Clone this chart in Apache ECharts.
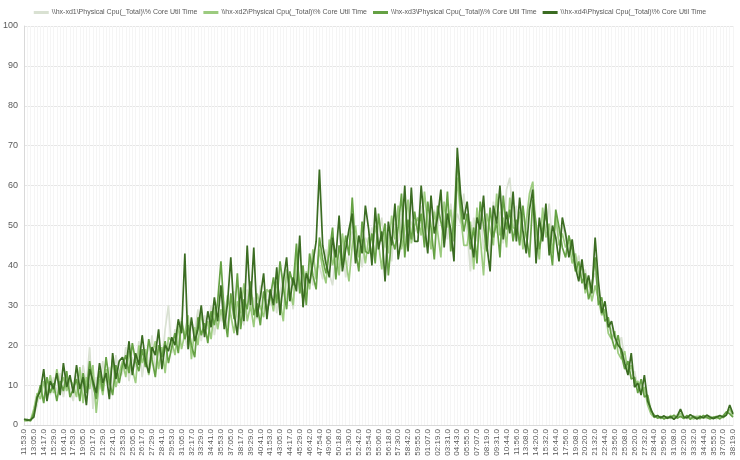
<!DOCTYPE html>
<html><head><meta charset="utf-8">
<script src="https://cdn.jsdelivr.net/npm/echarts@6/dist/echarts.min.js"></script>
<style>html,body{margin:0;padding:0;background:#fff}#c{width:740px;height:460px}</style>
</head><body><div id="c"></div>
<script>
const tickLabels = ['11:53.0','13:05.0','14:17.0','15:29.0','16:41.0','17:53.0','19:05.0','20:17.0','21:29.0','22:41.0','23:53.0','25:05.0','26:17.0','27:29.0','28:41.0','29:53.0','31:05.0','32:17.0','33:29.0','34:41.0','35:53.0','37:05.0','38:17.0','39:29.0','40:41.0','41:53.0','43:05.0','44:17.0','45:29.0','46:42.0','47:54.0','49:06.0','50:18.0','51:30.0','52:42.0','53:54.0','55:06.0','56:18.0','57:30.0','58:42.0','59:55.0','01:07.0','02:19.0','03:31.0','04:43.0','05:55.0','07:07.0','08:19.0','09:31.0','10:44.0','11:56.0','13:08.0','14:20.0','15:32.0','16:44.0','17:56.0','19:08.0','20:20.0','21:32.0','22:44.0','23:56.0','25:08.0','26:20.0','27:32.0','28:44.0','29:56.0','31:08.0','32:20.0','33:32.0','34:44.0','35:55.0','37:07.0','38:19.0'];

const seriesNames = ['\\\\hx-xd1\\Physical Cpu(_Total)\\% Core Util Time','\\\\hx-xd2\\Physical Cpu(_Total)\\% Core Util Time','\\\\hx-xd3\\Physical Cpu(_Total)\\% Core Util Time','\\\\hx-xd4\\Physical Cpu(_Total)\\% Core Util Time'];

const xd1 = [
1.2,1.0,1.5,2.5,5.0,9.5,6.0,10.5,7.5,12.0,8.0,13.0,7.0,12.0,9.0,
6.0,12.5,8.5,15.0,10.0,19.5,4.0,12.0,9.0,16.0,11.0,14.5,8.0,17.5,12.0,
13.0,19.5,11.0,17.0,14.5,21.0,12.0,18.0,15.0,22.5,13.5,19.0,16.0,24.0,30.0,
18.0,24.0,20.5,27.0,22.0,19.0,26.0,23.5,29.0,21.0,27.5,24.0,30.0,22.5,28.0,
26.0,31.0,24.5,29.0,33.5,27.0,30.0,25.0,34.0,28.5,32.0,26.5,35.0,29.0,31.5,
30.0,35.5,28.0,33.0,38.0,31.5,36.0,29.0,40.0,34.0,37.5,32.0,41.0,35.0,39.0,
40.0,36.5,44.0,38.0,35.0,42.5,39.0,46.0,37.0,43.0,48.5,41.0,45.0,39.5,47.0,
45.0,49.5,42.0,47.0,52.0,44.5,48.0,41.0,50.5,46.0,53.0,47.5,44.0,51.0,48.5,
50.0,55.0,47.0,52.5,45.5,54.0,49.0,57.0,51.0,46.5,55.5,48.0,53.0,50.5,58.0,
49.0,38.5,52.0,46.0,55.0,44.0,50.5,42.0,56.0,48.0,53.5,45.5,59.0,62.0,51.0,
55.0,47.0,52.5,49.0,56.0,60.5,50.0,45.5,53.0,48.5,55.5,46.0,51.0,47.5,50.0,
47.0,43.5,45.0,40.0,42.5,37.0,39.0,34.5,36.0,38.0,33.5,30.0,28.5,25.0,24.0,
21.0,19.5,22.0,16.0,14.5,12.0,13.5,9.5,10.0,8.0,6.5,3.0,2.2,1.8,2.0,
1.8,2.2,1.6,2.0,2.6,1.9,2.3,1.5,2.1,1.8,2.4,1.7,2.0,1.6,2.2,
1.7,2.3,1.9,2.4,3.0,3.6,2.2];

const xd2 = [
1.0,1.1,1.2,4.0,8.0,6.5,11.0,7.0,12.5,8.0,14.0,9.5,12.0,8.5,11.5,
10.0,7.0,14.5,5.5,12.0,9.0,15.0,3.0,11.5,7.5,14.0,10.0,16.5,9.5,13.0,
16.0,12.0,18.5,14.0,10.5,20.0,15.5,19.0,12.5,17.5,21.0,14.0,19.5,13.0,22.0,
21.0,17.5,25.0,19.0,23.0,27.5,16.5,24.5,20.0,28.0,23.0,26.0,21.5,29.5,24.0,
29.0,25.0,32.5,27.5,23.0,31.0,28.0,35.5,26.0,30.0,24.5,33.0,29.5,27.0,34.0,
33.0,28.5,36.0,31.0,26.0,39.0,33.5,30.0,42.5,35.0,31.5,38.5,34.0,44.0,36.5,
44.0,39.0,35.5,46.5,40.0,43.5,37.5,48.0,41.5,36.0,45.0,50.0,42.0,46.5,40.5,
47.0,42.5,50.0,45.5,39.0,48.5,43.0,52.5,46.5,55.0,44.0,49.0,56.5,45.5,50.0,
52.0,47.5,58.5,50.0,44.0,53.5,48.5,42.0,56.0,49.5,54.0,46.0,62.0,52.5,45.0,
45.0,51.0,39.0,54.5,47.0,37.5,53.0,49.0,45.0,58.0,47.5,52.0,44.5,57.0,49.5,
49.0,53.5,44.0,51.0,58.0,61.0,48.0,41.5,54.5,47.0,50.5,43.0,52.5,45.0,48.0,
44.5,46.0,40.5,43.0,37.5,40.0,33.0,36.5,31.0,35.0,31.5,27.5,29.0,23.0,21.5,
23.5,18.0,16.5,18.5,13.0,15.0,10.5,11.0,8.5,9.5,5.0,2.8,1.9,2.3,1.6,
2.1,1.6,2.4,1.8,2.0,3.0,1.7,2.2,1.9,1.5,2.0,2.3,1.7,2.1,1.8,
2.0,1.6,2.2,1.8,2.6,4.0,2.5];

const xd3 = [
1.3,1.4,1.0,3.0,6.5,10.0,5.5,12.0,8.0,10.5,6.0,11.0,8.5,13.5,7.0,
9.0,11.5,6.0,13.0,8.0,16.0,10.0,6.5,13.5,8.5,17.0,11.0,7.5,15.0,10.5,
15.0,17.5,13.0,20.5,16.0,13.5,19.0,14.5,21.5,16.5,12.0,20.0,17.0,21.0,15.5,
19.5,23.0,18.0,26.0,21.5,25.0,20.0,17.0,27.0,22.5,25.5,20.5,28.5,25.0,31.0,
41.0,28.0,22.0,33.0,26.5,38.0,24.0,31.5,29.0,36.0,27.5,30.5,25.0,33.5,28.5,
32.0,37.0,30.5,41.0,34.5,29.0,38.5,35.0,45.5,33.0,40.0,30.0,43.0,37.5,34.0,
47.0,41.5,38.0,43.0,49.5,36.5,45.0,40.0,47.5,42.5,57.0,44.0,38.5,51.0,43.5,
43.0,48.0,40.5,53.0,46.0,50.5,37.5,47.0,44.0,49.5,58.0,42.0,51.5,46.5,53.5,
48.0,53.0,44.5,56.0,49.5,41.5,55.0,51.0,47.0,58.5,43.5,51.5,67.0,55.0,48.5,
53.0,44.0,49.5,40.5,56.0,50.0,43.5,54.5,47.0,51.0,42.0,57.5,49.0,54.0,46.0,
51.5,45.0,55.0,47.5,42.0,56.5,50.5,44.0,49.0,53.0,46.5,40.0,54.0,49.5,44.5,
42.0,47.5,44.0,38.5,41.0,35.5,38.0,31.5,34.5,42.0,30.0,32.0,26.0,27.0,22.0,
19.0,22.5,17.5,14.0,16.0,11.5,12.0,8.0,11.5,7.0,7.5,3.5,2.5,1.7,2.1,
1.5,2.0,1.8,2.5,1.7,2.2,1.6,2.4,1.4,2.2,1.8,1.6,2.4,1.9,1.5,
1.9,2.1,1.5,2.3,3.3,2.8,2.0];

const xd4 = [
1.5,1.2,1.3,2.0,7.0,8.5,14.0,6.0,11.0,9.0,13.0,7.5,15.5,9.5,12.5,
8.0,15.0,9.0,12.0,5.0,14.0,11.0,8.0,15.5,10.5,13.0,6.5,18.0,11.5,16.0,
17.0,14.0,21.0,12.5,18.0,15.0,22.5,16.0,13.0,19.5,17.5,24.0,14.0,20.0,18.5,
22.0,20.0,26.5,23.0,43.0,19.0,27.0,21.0,24.0,30.0,22.0,28.5,24.5,32.0,26.0,
35.0,24.0,30.5,42.0,28.0,22.5,34.5,26.0,45.0,30.0,44.5,27.0,32.0,38.0,26.5,
34.0,30.0,39.5,27.5,36.0,42.0,31.0,37.0,33.5,47.5,29.5,38.0,35.5,40.5,46.0,
64.0,45.0,40.5,37.0,47.0,42.0,52.5,38.5,44.0,49.0,53.0,40.5,47.5,43.0,55.0,
49.0,40.0,54.5,44.0,48.5,36.0,51.0,45.0,55.5,41.5,47.0,60.0,43.5,59.5,46.0,
46.0,60.0,50.5,43.0,57.5,48.0,52.0,59.0,44.5,53.0,49.0,41.0,69.5,58.0,51.5,
56.0,47.5,42.0,52.0,49.0,57.5,45.0,38.5,55.0,50.5,60.0,46.5,53.5,48.0,58.5,
46.0,57.0,48.5,43.0,54.0,59.0,40.5,52.0,46.0,55.5,42.5,50.0,47.0,41.0,52.0,
48.0,42.0,46.5,39.5,36.0,41.5,34.0,37.5,33.0,47.0,36.0,28.0,31.0,24.5,26.0,
22.0,20.0,19.0,15.5,12.5,18.0,9.5,10.5,7.5,12.5,6.0,4.0,2.0,2.4,1.8,
2.3,1.7,2.1,1.4,2.2,4.0,2.0,1.8,2.6,2.0,1.5,2.1,1.8,2.5,2.0,
1.6,2.0,2.4,2.0,2.5,5.0,2.8];

const colors = ['#d9e1d2','#9ccb7f','#65a144','#3b6c22'];

const categories = [];
tickLabels.forEach((t, i) => {
  categories.push(t);
  if (i < tickLabels.length - 1) { categories.push(''); categories.push(''); }
});

const allData = [xd1, xd2, xd3, xd4];
const chart = echarts.init(document.getElementById('c'), null, {renderer: 'canvas'});
chart.setOption({
  animation: false,
  color: colors,
  textStyle: {fontFamily: 'Liberation Sans'},
  legend: {
    top: 4, left: 'center', width: 730, itemWidth: 15, itemHeight: 3, itemGap: 6, icon: 'rect',
    textStyle: {fontSize: 7, color: '#595959', fontFamily: 'Liberation Sans', padding: [0, 0, 0, -2]},
    data: seriesNames
  },
  grid: {left: 22, right: 7, top: 26, bottom: 35, containLabel: false},
  xAxis: {
    type: 'category', data: categories, boundaryGap: false,
    axisLine: {lineStyle: {color: '#d9d9d9'}},
    axisTick: {show: false},
    axisLabel: {rotate: 90, interval: 2, fontSize: 8, color: '#595959', margin: 4},
    splitLine: {show: true, interval: 0, lineStyle: {color: '#f5f5f5', width: 1}}
  },
  yAxis: {
    type: 'value', min: 0, max: 100, interval: 10,
    axisLine: {show: true, lineStyle: {color: '#d9d9d9'}},
    axisTick: {show: false},
    axisLabel: {fontSize: 9, color: '#595959', margin: 6},
    splitLine: {lineStyle: {color: '#e6e6e6'}}
  },
  series: allData.map((d, i) => ({
    name: seriesNames[i], type: 'line', data: d, showSymbol: false,
    lineStyle: {width: 1.7, color: colors[i]}, itemStyle: {color: colors[i]}
  }))
});
</script></body></html>
